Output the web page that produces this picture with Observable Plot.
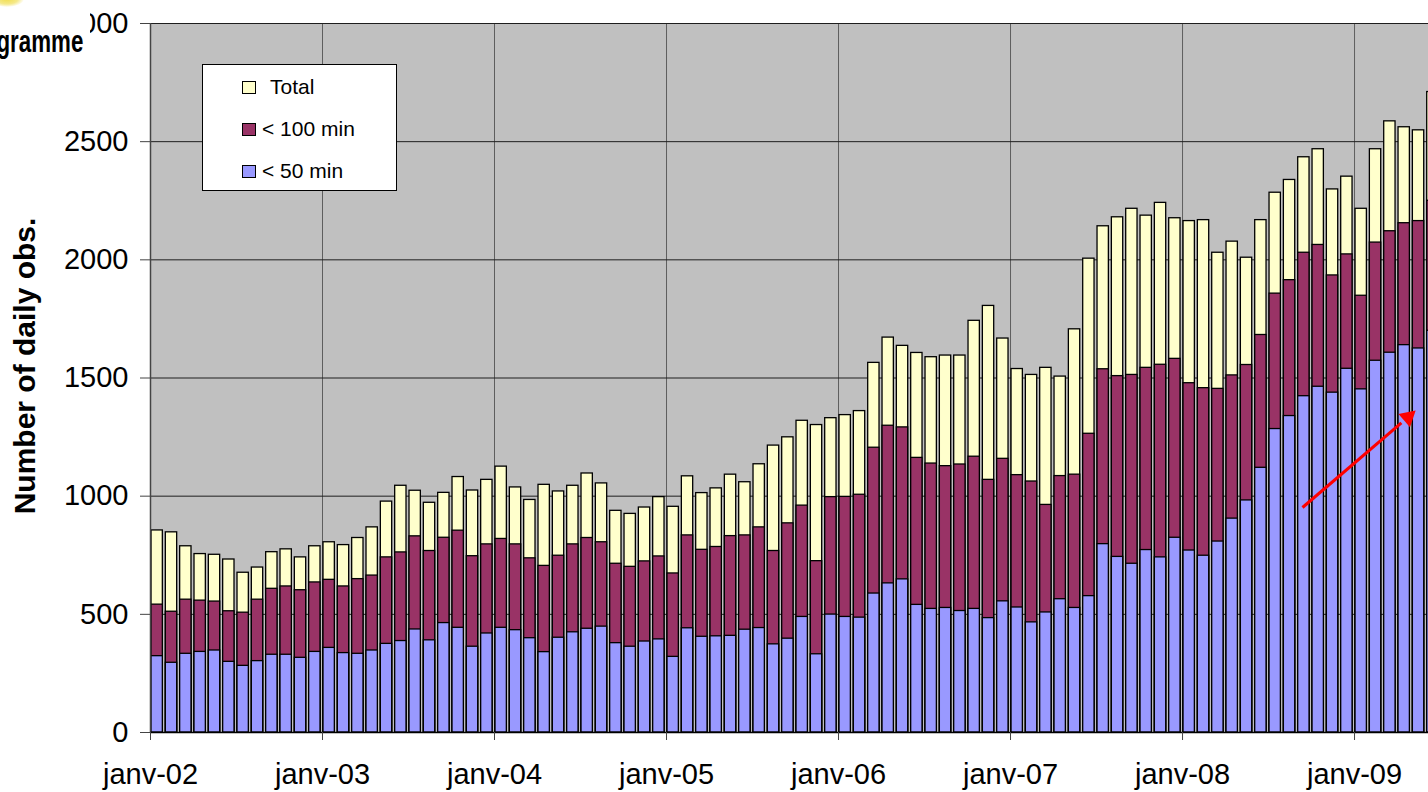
<!DOCTYPE html>
<html>
<head>
<meta charset="utf-8">
<script src="https://cdn.jsdelivr.net/npm/d3@7"></script>
<script src="https://cdn.jsdelivr.net/npm/@observablehq/plot@0.6"></script>
<style>
  html, body { margin: 0; padding: 0; background: #fff; overflow: hidden; }
  #wrap { position: relative; width: 1428px; height: 792px; font-family: "Liberation Sans", Arial, sans-serif; }
  #chart svg { display: block; }
  #legend { position: absolute; left: 202px; top: 64px; width: 193px; height: 125px; background: #fff; border: 1px solid #000; box-sizing: content-box; }
  .item { position: absolute; left: 39px; height: 20px; display: flex; align-items: center; font-size: 21px; color: #000; white-space: pre; }
  .sw { width: 12px; height: 11px; border: 1px solid #000; margin-right: 6px; flex: none; }
  #prog { position: absolute; left: 0; top: 0; width: 90px; height: 62px; background: #fff; overflow: hidden; }
  #prog span { position: absolute; right: 7px; top: 26px; line-height: 1; font-weight: bold; font-size: 31px; transform: scaleX(0.72); transform-origin: right center; white-space: nowrap; color: #000; }
  #blob { position: absolute; left: -10px; top: -9px; width: 34px; height: 16px; border-radius: 50%; background: radial-gradient(ellipse at center, #f1de4e 0%, #f5e98a 45%, rgba(255,255,255,0) 72%); }
</style>
</head>
<body>
<div id="wrap">
  <div id="chart"></div>
  <div id="prog"><span>Programme</span></div>
  <div id="blob"></div>
  <div id="legend"></div>
</div>
<script>
// ---- Data ----
const months = [
  "2002-01","2002-02","2002-03","2002-04","2002-05","2002-06","2002-07","2002-08","2002-09","2002-10","2002-11","2002-12",
  "2003-01","2003-02","2003-03","2003-04","2003-05","2003-06","2003-07","2003-08","2003-09","2003-10","2003-11","2003-12",
  "2004-01","2004-02","2004-03","2004-04","2004-05","2004-06","2004-07","2004-08","2004-09","2004-10","2004-11","2004-12",
  "2005-01","2005-02","2005-03","2005-04","2005-05","2005-06","2005-07","2005-08","2005-09","2005-10","2005-11","2005-12",
  "2006-01","2006-02","2006-03","2006-04","2006-05","2006-06","2006-07","2006-08","2006-09","2006-10","2006-11","2006-12",
  "2007-01","2007-02","2007-03","2007-04","2007-05","2007-06","2007-07","2007-08","2007-09","2007-10","2007-11","2007-12",
  "2008-01","2008-02","2008-03","2008-04","2008-05","2008-06","2008-07","2008-08","2008-09","2008-10","2008-11","2008-12",
  "2009-01","2009-02","2009-03","2009-04","2009-05","2009-06"
];
const total = [
  855, 847, 788, 755, 752, 732, 676, 698, 763, 775, 741, 788,
  805, 793, 823, 868, 977, 1044, 1023, 972, 1014, 1081, 1024, 1069,
  1125, 1037, 984, 1048, 1020, 1044, 1096, 1054, 938, 925, 952, 996,
  955, 1084, 1013, 1033, 1091, 1059, 1135, 1214, 1249, 1319, 1301, 1330,
  1343, 1360, 1564, 1671, 1636, 1606, 1588, 1595, 1595, 1742, 1805, 1667,
  1538, 1513, 1543, 1506, 1706, 2005, 2142, 2180, 2216, 2187, 2241, 2176,
  2164, 2168, 2030, 2077, 2009, 2168, 2284, 2338, 2434, 2468, 2298, 2352,
  2216, 2468, 2586, 2561, 2548, 2710
];
const under100 = [
  541, 511, 562, 558, 554, 513, 507, 562, 608, 618, 602, 635,
  646, 618, 649, 664, 741, 762, 830, 768, 824, 854, 746, 796,
  819, 796, 737, 705, 748, 796, 823, 805, 714, 701, 724, 745,
  673, 834, 773, 785, 831, 834, 868, 768, 885, 960, 725, 996,
  997, 1006, 1205, 1298, 1291, 1162, 1138, 1127, 1134, 1167, 1069, 1158,
  1089, 1062, 963, 1085, 1091, 1264, 1537, 1508, 1513, 1543, 1556, 1581,
  1478, 1457, 1454, 1511, 1555, 1682, 1857, 1914, 2030, 2063, 1934, 2023,
  1848, 2073, 2121, 2155, 2164, 2250
];
const under50 = [
  323, 295, 333, 341, 347, 299, 282, 302, 329, 329, 316, 341,
  358, 336, 333, 347, 375, 387, 436, 390, 463, 443, 363, 419,
  443, 433, 399, 340, 401, 424, 439, 448, 378, 363, 385, 394,
  320, 441, 405, 407, 409, 435, 442, 373, 397, 489, 331, 499,
  489, 486, 588, 631, 648, 540, 523, 527, 514, 523, 484, 555,
  529, 466, 508, 564, 527, 577, 797, 743, 714, 772, 741, 824,
  770, 748, 808, 905, 982, 1120, 1284, 1339, 1423, 1463, 1438, 1539,
  1452, 1573, 1607, 1639, 1625, 1700
];
const seriesNames = ["Total", "< 100 min", "< 50 min"];
const seriesColors = ["#FFFFCC", "#993366", "#9999FF"];
const yearTickMonths = [0, 12, 24, 36, 48, 60, 72, 84];
const yearTickLabels = ["janv-02", "janv-03", "janv-04", "janv-05", "janv-06", "janv-07", "janv-08", "janv-09"];
const yTicks = [0, 500, 1000, 1500, 2000, 2500, 3000];
const yTitle = "Number of daily obs.";
// red trend arrow, in (month index, value) units
const arrowNote = [{m1: 80.37, v1: 952, m2: 88.12, v2: 1354}];
const visibleMonths = 89.16;

// ---- Build ----
const rows = months.map((m, i) => ({i, m, total: total[i], u100: under100[i], u50: under50[i]}));
const labelOf = new Map(yearTickMonths.map((m, k) => [m, yearTickLabels[k]]));
// arrow head sits slightly back from the tip, on the arrow's own line
const headBack = 0.05;
const arrowHead = arrowNote.map(a => ({
  m: a.m2 - headBack * (a.m2 - a.m1),
  v: a.v2 - headBack * (a.v2 - a.v1),
  mShaft: a.m2 - 2.2 * headBack * (a.m2 - a.m1),
  vShaft: a.v2 - 2.2 * headBack * (a.v2 - a.v1),
  m1: a.m1, v1: a.v1
}));

const bars = (field, fill) => Plot.rectY(rows, {
  x1: d => d.i, x2: d => d.i + 1, y: field,
  fill, stroke: "#000", strokeWidth: 1.3,
  insetLeft: 1, insetRight: 2, clip: true
});

const chart = Plot.plot({
  width: 1428, height: 792,
  marginLeft: 150, marginRight: 0, marginTop: 23, marginBottom: 60,
  x: {domain: [0, visibleMonths], axis: null},
  y: {domain: [0, 3000], axis: null},
  style: {fontFamily: "'Liberation Sans', Arial, sans-serif", background: "transparent", color: "#000"},
  marks: [
    Plot.frame({fill: "#C0C0C0"}),
    Plot.ruleX(yearTickMonths.slice(1), {stroke: "#5e5e5e", strokeWidth: 1}),
    Plot.ruleY(yTicks.slice(1), {stroke: "#1e1e1e", strokeWidth: 1}),
    bars("total", seriesColors[0]),
    bars("u100", seriesColors[1]),
    bars("u50", seriesColors[2]),
    Plot.ruleX([0], {stroke: "#444", strokeWidth: 1.5}),
    Plot.ruleY([0], {stroke: "#000", strokeWidth: 1.3}),
    Plot.axisY({ticks: yTicks, tickSize: 10, tickPadding: 12, fontSize: 29, stroke: "#444", label: null, tickFormat: d => String(d)}),
    Plot.axisX({ticks: yearTickMonths, tickSize: 8, tickPadding: 23, fontSize: 29, stroke: "#444", label: null, tickFormat: d => labelOf.get(d)}),
    Plot.text([yTitle], {text: d => d, frameAnchor: "left", textAnchor: "middle", dx: -125, dy: -12, rotate: -90, fontSize: 30, fontWeight: "bold", fill: "#000"}),
    Plot.link(arrowHead, {x1: "m1", y1: "v1", x2: "mShaft", y2: "vShaft", stroke: "#ff0000", strokeWidth: 3}),
    Plot.dot(arrowHead, {x: "m", y: "v", symbol: "triangle", r: 6.5, rotate: 49, fill: "#ff0000", stroke: "none"})
  ]
});
document.getElementById("chart").appendChild(chart);

// ---- Legend ----
const legend = document.getElementById("legend");
const legendTops = [12, 54, 96];
const legendPads = [14, 6, 6];
seriesNames.forEach((name, k) => {
  const it = document.createElement("div");
  it.className = "item";
  it.style.top = legendTops[k] + "px";
  const sw = document.createElement("div");
  sw.className = "sw";
  sw.style.background = seriesColors[k];
  sw.style.marginRight = legendPads[k] + "px";
  const tx = document.createElement("span");
  tx.textContent = name;
  it.appendChild(sw);
  it.appendChild(tx);
  legend.appendChild(it);
});
</script>
</body>
</html>
